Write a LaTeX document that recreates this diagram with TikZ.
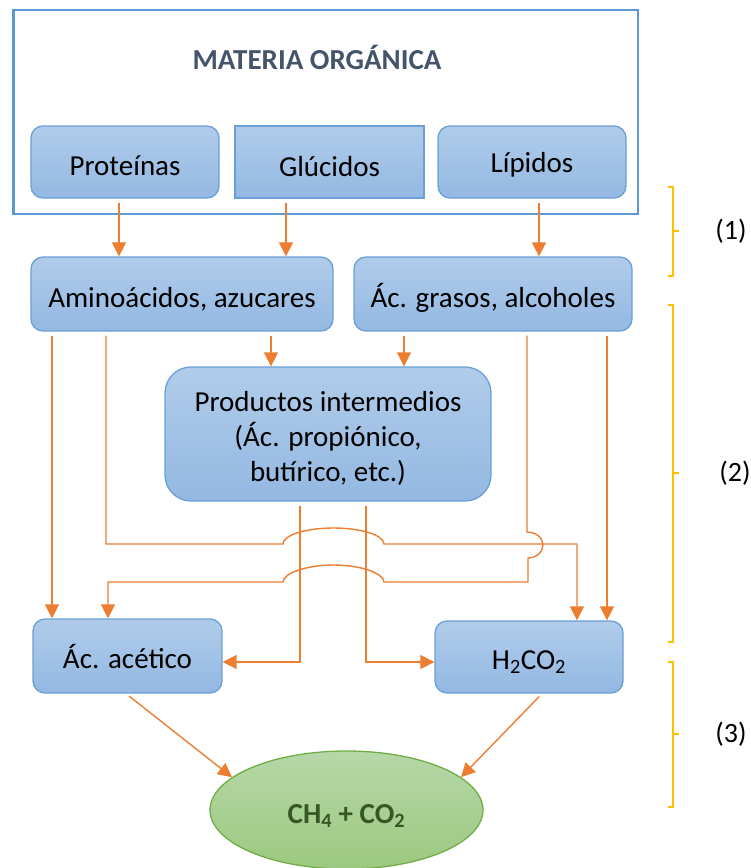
\documentclass[tikz,border=0pt]{standalone}
\usepackage{fontspec}
\setmainfont{Carlito}
\usetikzlibrary{arrows.meta,shapes.geometric}
\definecolor{boxtop}{HTML}{B1CCEA}
\definecolor{boxbot}{HTML}{93B8E2}
\definecolor{boxline}{HTML}{6A9FD7}
\definecolor{outerline}{HTML}{5B9BD5}
\definecolor{orng}{HTML}{ED7D31}
\definecolor{yel}{HTML}{FFC000}
\definecolor{eltop}{HTML}{B6D7A8}
\definecolor{elbot}{HTML}{9CC97F}
\definecolor{elline}{HTML}{70AD47}
\definecolor{eltext}{HTML}{375623}
\definecolor{titletext}{HTML}{44546A}
\begin{document}
\begin{tikzpicture}[x=1pt,y=-1pt,
  every node/.style={font=\fontsize{29}{35}\selectfont, inner sep=0pt},
  bluebox/.style={draw=boxline, line width=1.3pt, top color=boxtop, bottom color=boxbot, rounded corners=12pt, minimum height=72pt},
  oneline/.style={text height=26pt, text depth=0pt},
  link/.style={draw=orng, line width=1.4pt},
  arr/.style={link, -{Triangle[width=14pt,length=14pt]}},
  brk/.style={draw=yel, line width=2.6pt},
  lbl/.style={font=\fontsize{28}{34}\selectfont}
]
\useasboundingbox (0,0) rectangle (751,868);

% outer frame
\node[draw=outerline, line width=2.4pt, minimum width=624.5pt, minimum height=204pt] (outer) at (325.75,112) {};
\node[font=\bfseries\fontsize{29}{35}\selectfont, text=titletext] (title) at (317,57) {MATERIA ORGÁNICA};

% boxes
\node[bluebox, oneline, minimum width=188pt] (prot) at (125,162) {Proteínas};
\node[bluebox, oneline, text height=28pt, rounded corners=0pt, minimum width=189pt] (gluc) at (329.5,162) {Glúcidos};
\node[bluebox, oneline, text height=21pt, minimum width=188pt] (lip) at (532,162) {Lípidos};
\node[bluebox, oneline, minimum width=302pt, minimum height=74pt] (amino) at (182,294) {Aminoácidos, azucares};
\node[bluebox, oneline, minimum width=278pt, minimum height=74pt] (grasos) at (493,294) {Ác. grasos, alcoholes};
\node[bluebox, minimum width=326pt, minimum height=134pt, rounded corners=26pt] (prod) at (328,434)
  {\raisebox{-5pt}[\height][\depth]{\begin{tabular}{@{}c@{}}Productos intermedios\\(Ác. propiónico,\\butírico, etc.)\end{tabular}}};
\node[bluebox, oneline, text height=24pt, minimum width=189pt, minimum height=74pt] (acet) at (127.5,656) {Ác. acético};
\node[bluebox, oneline, text height=24pt, minimum width=188pt] (h2) at (529,657) {H\textsubscript{2}CO\textsubscript{2}};
\node[ellipse, draw=elline, line width=1.3pt, top color=eltop, bottom color=elbot, minimum width=273pt, minimum height=118pt, oneline, font=\bfseries\fontsize{29}{35}\selectfont, text=eltext] (gas) at (346.5,810) {CH\textsubscript{4} + CO\textsubscript{2}};

% connectors
\draw[arr, shorten <=4pt] (prot.south -| 119,0) -- (amino.north -| 119,0);
\draw[arr, shorten <=4pt] (gluc.south -| 286,0) -- (amino.north -| 286,0);
\draw[arr, shorten <=4pt] (lip.south -| 539,0) -- (grasos.north -| 539,0);
\draw[arr, shorten <=4pt] (amino.south -| 271,0) -- (prod.north -| 271,0);
\draw[arr, shorten <=4pt] (grasos.south -| 404,0) -- (prod.north -| 404,0);
\draw[arr, shorten <=4pt] (amino.south -| 52,0) -- (acet.north -| 52,0);
\draw[arr, shorten <=4pt] (amino.south -| 106,0) -- (106,544) -- (283,544)
  .. controls (283,535.2) and (305.6,528) .. (333.5,528)
  .. controls (361.4,528) and (384,535.2) .. (384,544)
  -- (577,544) -- (h2.north -| 577,0);
\draw[arr, shorten <=4pt] (grasos.south -| 527,0) -- (527,532)
  .. controls (535.8,532) and (543,537.8) .. (543,545)
  .. controls (543,552.2) and (535.8,558) .. (528,558)
  -- (528,582) -- (384,582)
  .. controls (384,573.6) and (361.4,565) .. (333.5,565)
  .. controls (305.6,565) and (283,573.6) .. (283,582)
  -- (108,582) -- (acet.north -| 108,0);
\draw[arr, shorten <=4pt] (grasos.south -| 607,0) -- (h2.north -| 607,0);
\draw[arr, shorten <=4pt] (prod.south -| 300,0) -- (300,662) -- (acet.east |- 0,662);
\draw[arr, shorten <=4pt] (prod.south -| 366,0) -- (366,662) -- (h2.west |- 0,662);
\draw[arr, shorten <=4pt] (acet.south -| 126,0) -- (gas.164.8);
\draw[arr, shorten <=4pt] (h2.south -| 542,0) -- (gas.16.2);

% stage brackets
\draw[brk] (668,187) -- (673,187) -- (673,276) -- (668,276);
\draw[brk] (673,231) -- (679,231);
\draw[brk] (668,305) -- (673,305) -- (673,642) -- (668,642);
\draw[brk] (673,473) -- (679,473);
\draw[brk] (668,662) -- (673,662) -- (673,807) -- (668,807);
\draw[brk] (673,734) -- (679,734);
\node[lbl] (s1) at (731,231) {(1)};
\node[lbl] (s2) at (735,473) {(2)};
\node[lbl] (s3) at (731,734) {(3)};
\end{tikzpicture}
\end{document}
